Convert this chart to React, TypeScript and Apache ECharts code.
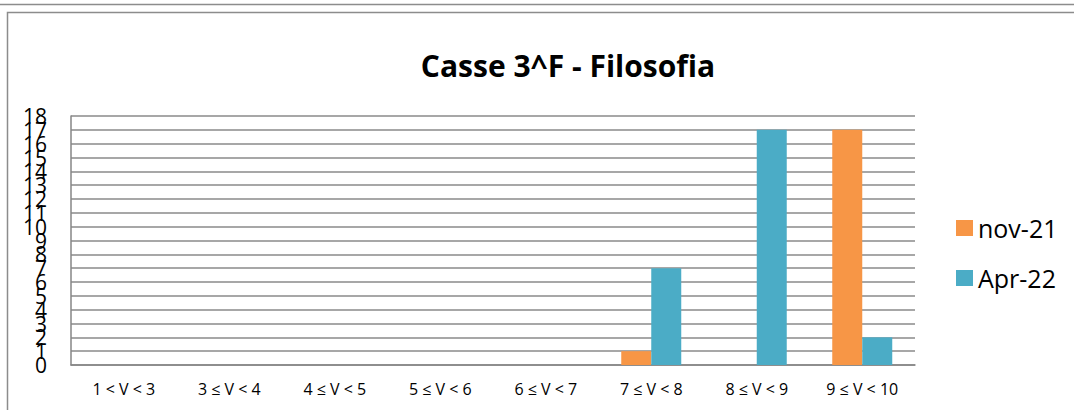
import React, { useEffect, useRef } from "react";
import * as echarts from "echarts";

const categories = ["1 < V < 3", "3 ≤ V < 4", "4 ≤ V < 5", "5 ≤ V < 6", "6 ≤ V < 7", "7 ≤ V < 8", "8 ≤ V < 9", "9 ≤ V < 10"];
const nov21 = [0, 0, 0, 0, 0, 1, 0, 17];
const apr22 = [0, 0, 0, 0, 0, 7, 17, 2];
const seriesNames = ["nov-21", "Apr-22"];
const titleText = "Casse 3^F - Filosofia";
const yMin = 0;
const yMax = 18;

export default function App() {
  const ref = useRef<HTMLDivElement>(null);
  useEffect(() => {
    const chart = echarts.init(ref.current!, null, { renderer: "svg" });
    const labelStyle = { fontSize: 21, color: "#000", margin: 24, hideOverlap: false };
    chart.setOption({
      animation: false,
      backgroundColor: "#ffffff",
      textStyle: { fontFamily: "'Open Sans', 'Noto Sans', sans-serif" },
      title: {
        text: titleText,
        left: 563,
        top: 45,
        textAlign: "center",
        textStyle: { fontSize: 30, fontWeight: "bold", color: "#000", fontFamily: "'Open Sans', sans-serif" },
      },
      graphic: [
        { type: "line", shape: { x1: 0, y1: 4.5, x2: 1074, y2: 4.5 }, style: { stroke: "#8c8c8c", lineWidth: 1.5 } },
        { type: "rect", shape: { x: 7.5, y: 12.5, width: 1080, height: 420 }, style: { fill: "none", stroke: "#8c8c8c", lineWidth: 1.5 } },
      ],
      legend: {
        orient: "vertical",
        left: 951,
        top: 208,
        itemWidth: 17,
        itemHeight: 16,
        itemGap: 20,
        icon: "rect",
        textStyle: { fontSize: 25, color: "#000", lineHeight: 30 },
        data: seriesNames,
      },
      grid: { left: 71, top: 116, width: 844, height: 249, containLabel: false },
      xAxis: {
        type: "category",
        data: categories,
        axisLine: { show: true, lineStyle: { color: "#868686", width: 1.5 } },
        axisTick: { show: false },
        axisLabel: { fontSize: 16, color: "#000", margin: 16 },
      },
      yAxis: [
        {
          type: "value",
          min: yMin,
          max: yMax,
          interval: 1,
          position: "left",
          axisLine: { show: true, lineStyle: { color: "#868686", width: 1.5 } },
          axisTick: { show: false },
          axisLabel: { ...labelStyle, showMinLabel: false, showMaxLabel: false },
          splitLine: { show: true, lineStyle: { color: "#8a8a8a", width: 1.5 } },
        },
        {
          type: "value",
          min: yMin,
          max: yMax,
          interval: 1,
          position: "left",
          offset: 0,
          axisLine: { show: false },
          axisTick: { show: false },
          splitLine: { show: false },
          axisLabel: {
            ...labelStyle,
            showMinLabel: true,
            showMaxLabel: true,
            formatter: (v: number) => (v === yMin || v === yMax ? String(v) : ""),
          },
        },
      ],
      series: [
        { name: seriesNames[0], type: "bar", data: nov21, barWidth: 30, barGap: "0%", itemStyle: { color: "#F79646" } },
        { name: seriesNames[1], type: "bar", data: apr22, barWidth: 30, barGap: "0%", itemStyle: { color: "#4BACC6" } },
      ],
    });
    return () => chart.dispose();
  }, []);
  return <div ref={ref} style={{ position: "fixed", left: 0, top: 0, width: 1074, height: 410 }} />;
}
